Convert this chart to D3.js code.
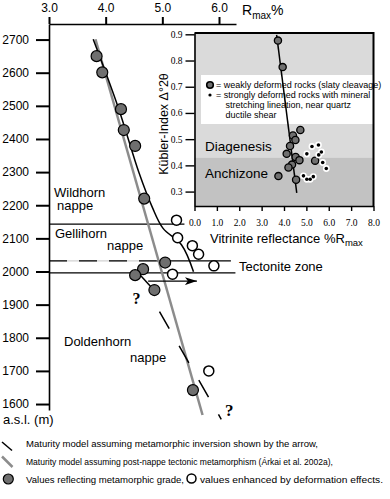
<!DOCTYPE html>
<html>
<head>
<meta charset="utf-8">
<script src="https://cdn.jsdelivr.net/npm/d3@7"></script>
<style>
  body { margin: 0; background: #fff; }
  svg { display: block; font-family: 'Liberation Sans', Arial, sans-serif; }
</style>
</head>
<body>
<div id="chart"></div>
<script>
// main profile: altitude vs. vitrinite reflectance
const rmaxTicks = [3, 4, 5, 6];
const altTicks = [1600, 1700, 1800, 1900, 2000, 2100, 2200, 2300, 2400, 2500, 2600, 2700];

// values reflecting metamorphic grade (grey dots)
const gradeRmax = [3.84, 3.94, 4.27, 4.32, 4.52, 4.68, 5.05, 4.66, 4.52, 4.86, 5.54];
const gradeAlt = [2650, 2601, 2490, 2427, 2379, 2220, 2027, 2007, 1989, 1944, 1642];

// values enhanced by deformation effects (open dots)
const deformedRmax = [5.25, 5.27, 5.53, 5.64, 5.91, 5.18, 5.82];
const deformedAlt = [2155, 2102, 2078, 2052, 2017, 1992, 1700];

// maturity model, metamorphic inversion (black)
const inversionRmax = [3.78, 4.22, 4.59, 4.82, 5.01, 5.34, 5.55];
const inversionAlt = [2701, 2496, 2297, 2195, 2131, 2080, 1999];
const inversionLinkRmax = [4.58, 4.83];
const inversionLinkAlt = [1995, 1948];
const inversionTailRmax = [4.95, 6.04];
const inversionTailAlt = [1879, 1554];
const arrowRmax = [4.75, 5.61];
const arrowAlt = 1971;

// maturity model, post-nappe tectonic metamorphism (grey)
const postNappeRmax = [3.82, 5.71];
const postNappeAlt = [2701, 1567];

// nappe boundaries
const wildhornBase = { alt: 2143, to: 5.39 };
const tectoniteTop = { alt: 2032, dashedTo: 4.9, to: 6.21 };
const tectoniteBase = { alt: 1996, to: 6.29 };

// inset: Kübler index vs. vitrinite reflectance
const vrTicks = [0, 1, 2, 3, 4, 5, 6, 7, 8];
const kiTicks = [0.3, 0.4, 0.5, 0.6, 0.7, 0.8, 0.9];
const anchizoneLimit = 0.43;

const weakVr = [3.73, 3.94, 4.73, 4.40, 4.51, 4.27, 4.12, 4.52, 4.69, 4.36, 4.20, 5.39, 3.75, 4.54];
const weakKi = [0.876, 0.775, 0.535, 0.514, 0.497, 0.474, 0.444, 0.432, 0.420, 0.403, 0.392, 0.418, 0.359, 0.345];

const strongVr = [5.25, 5.54, 5.02, 5.55, 5.67, 5.73, 5.89, 4.87, 5.02, 5.17, 5.31];
const strongKi = [0.472, 0.478, 0.444, 0.440, 0.451, 0.411, 0.388, 0.360, 0.347, 0.347, 0.357];

const trendVr = [3.67, 4.57];
const trendKi = [0.898, 0.295];

const W = 390, H = 499;
const GREY_DOT = '#6f6f6f';
const GREY_LINE = '#8c8c8c';

const svg = d3.select('#chart').append('svg')
    .attr('width', W)
    .attr('height', H);

svg.append('rect').attr('width', W).attr('height', H).attr('fill', '#fff');

// scales
const x = d3.scaleLinear().domain([3, 6.3]).range([49, 236]);
const y = d3.scaleLinear().domain([1582, 2747]).range([410, 24]);

const zip = (a, b) => a.map((d, i) => [d, b[i]]);
const line = d3.line().x(d => x(d[0])).y(d => y(d[1]));

svg.append('defs').append('marker')
    .attr('id', 'arrow')
    .attr('viewBox', '0 0 12 8')
    .attr('refX', 12).attr('refY', 4)
    .attr('markerWidth', 12).attr('markerHeight', 8)
    .attr('markerUnits', 'userSpaceOnUse')
    .attr('orient', 'auto')
    .append('path')
    .attr('d', 'M0,0 L12,4 L0,8 L3,4 Z')
    .attr('fill', '#000');

const chart = svg.append('g');

// nappe boundaries
chart.append('path')
    .attr('d', line([[3, wildhornBase.alt], [wildhornBase.to, wildhornBase.alt]]))
    .attr('stroke', '#000').attr('stroke-width', 1.3);

chart.append('path')
    .attr('d', line([[3, tectoniteTop.alt], [tectoniteTop.dashedTo, tectoniteTop.alt]]))
    .attr('stroke', '#d2d2d2').attr('stroke-width', 1.3);
chart.append('path')
    .attr('d', line([[3, tectoniteTop.alt], [tectoniteTop.dashedTo, tectoniteTop.alt]]))
    .attr('stroke', '#000').attr('stroke-width', 1.3)
    .attr('stroke-dasharray', '18,12');
chart.append('path')
    .attr('d', line([[tectoniteTop.dashedTo, tectoniteTop.alt], [tectoniteTop.to, tectoniteTop.alt]]))
    .attr('stroke', '#000').attr('stroke-width', 1.3);

chart.append('path')
    .attr('d', line([[3, tectoniteBase.alt], [tectoniteBase.to, tectoniteBase.alt]]))
    .attr('stroke', '#000').attr('stroke-width', 1.3);

// model lines
chart.append('path')
    .attr('d', line(zip(postNappeRmax, postNappeAlt)))
    .attr('fill', 'none').attr('stroke', GREY_LINE).attr('stroke-width', 2.5);

chart.append('path')
    .attr('d', line.curve(d3.curveCatmullRom)(zip(inversionRmax, inversionAlt)))
    .attr('fill', 'none').attr('stroke', '#000').attr('stroke-width', 1.5);
line.curve(d3.curveLinear);

chart.append('path')
    .attr('d', line(zip(inversionLinkRmax, inversionLinkAlt)))
    .attr('fill', 'none').attr('stroke', '#000').attr('stroke-width', 1.5);

chart.append('path')
    .attr('d', line(zip(inversionTailRmax, inversionTailAlt)))
    .attr('fill', 'none').attr('stroke', '#000').attr('stroke-width', 1.5)
    .attr('stroke-dasharray', '19.5,20');

chart.append('path')
    .attr('d', line(arrowRmax.map(d => [d, arrowAlt])))
    .attr('stroke', '#000').attr('stroke-width', 1.3)
    .attr('marker-end', 'url(#arrow)');

// data points
chart.selectAll('.deformed')
    .data(zip(deformedRmax, deformedAlt))
    .join('circle')
    .attr('class', 'deformed')
    .attr('cx', d => x(d[0]))
    .attr('cy', d => y(d[1]))
    .attr('r', 5)
    .attr('fill', '#fff').attr('stroke', '#000').attr('stroke-width', 1.5);

chart.selectAll('.grade')
    .data(zip(gradeRmax, gradeAlt))
    .join('circle')
    .attr('class', 'grade')
    .attr('cx', d => x(d[0]))
    .attr('cy', d => y(d[1]))
    .attr('r', 5.5)
    .attr('fill', GREY_DOT).attr('stroke', '#000').attr('stroke-width', 1.2);

// axes
const topAxis = d3.axisTop(x)
    .tickValues(rmaxTicks)
    .tickFormat(d3.format('.1f'))
    .tickSize(7).tickSizeOuter(0).tickPadding(5);

const leftAxis = d3.axisLeft(y)
    .tickValues(altTicks)
    .tickFormat(d3.format('d'))
    .tickSize(13).tickSizeOuter(0).tickPadding(7);

const topG = svg.append('g').attr('transform', `translate(0,${y.range()[1]})`).call(topAxis);
const leftG = svg.append('g').attr('transform', `translate(${x.range()[0]},0)`).call(leftAxis);

[topG, leftG].forEach(g => {
    g.attr('font-family', null).attr('font-size', 12);
    g.select('.domain').attr('stroke-width', 1.6);
    g.selectAll('.tick line').attr('stroke-width', 2);
    g.selectAll('.tick text').attr('fill', '#000');
});

const rTitle = svg.append('text').attr('x', 242).attr('y', 15).attr('font-size', 14);
rTitle.append('tspan').text('R');
rTitle.append('tspan').attr('font-size', 10).attr('dy', 4).text('max');
rTitle.append('tspan').attr('dy', -4).text('%');

svg.append('text').attr('x', 3).attr('y', 424).attr('font-size', 13).text('a.s.l. (m)');

// nappe labels
const labels = [
    ['Wildhorn', 54, 196.5], ['nappe', 57, 210], ['Gellihorn', 55, 238],
    ['nappe', 107, 250], ['Doldenhorn', 64, 346], ['nappe', 130, 362],
    ['Tectonite zone', 239, 271]
];
svg.selectAll('.nappe-label')
    .data(labels)
    .join('text')
    .attr('class', 'nappe-label')
    .attr('x', d => d[1]).attr('y', d => d[2])
    .attr('font-size', 13)
    .text(d => d[0]);

svg.append('text')
    .attr('x', x(4.545)).attr('y', y(1902))
    .attr('text-anchor', 'middle')
    .attr('font-family', "'Liberation Serif', serif").attr('font-weight', 'bold').attr('font-size', 16)
    .text('?');
svg.append('text')
    .attr('x', x(6.18)).attr('y', y(1564))
    .attr('text-anchor', 'middle')
    .attr('font-family', "'Liberation Serif', serif").attr('font-weight', 'bold').attr('font-size', 17)
    .text('?');

// inset
const xi = d3.scaleLinear().domain([0, 8]).range([194.5, 373.5]);
const yi = d3.scaleLinear().domain([0.245, 0.905]).range([206, 33]);

const inset = svg.append('g');

inset.append('rect')
    .attr('x', xi(0)).attr('y', yi(0.905))
    .attr('width', xi(8) - xi(0)).attr('height', yi(anchizoneLimit) - yi(0.905))
    .attr('fill', '#dadada');
inset.append('rect')
    .attr('x', xi(0)).attr('y', yi(anchizoneLimit))
    .attr('width', xi(8) - xi(0)).attr('height', yi(0.245) - yi(anchizoneLimit))
    .attr('fill', '#c2c2c2');

// legend box
inset.append('rect')
    .attr('x', 201).attr('y', 75).attr('width', xi(8) - 201).attr('height', 49)
    .attr('fill', '#fff');

inset.append('text').attr('x', 205).attr('y', 150.5).attr('font-size', 13.5).text('Diagenesis');
inset.append('text').attr('x', 205).attr('y', 177.5).attr('font-size', 13.5).text('Anchizone');

inset.append('path')
    .attr('d', d3.line().x(d => xi(d[0])).y(d => yi(d[1]))(zip(trendVr, trendKi)))
    .attr('stroke', '#000').attr('stroke-width', 1.5);

inset.selectAll('.weak')
    .data(zip(weakVr, weakKi))
    .join('circle')
    .attr('class', 'weak')
    .attr('cx', d => xi(d[0])).attr('cy', d => yi(d[1]))
    .attr('r', 3.6)
    .attr('fill', GREY_DOT).attr('stroke', '#000').attr('stroke-width', 1.3);

inset.selectAll('.strong-halo')
    .data(zip(strongVr, strongKi))
    .join('circle')
    .attr('class', 'strong-halo')
    .attr('cx', d => xi(d[0])).attr('cy', d => yi(d[1]))
    .attr('r', 3.4).attr('fill', '#fff');
inset.selectAll('.strong')
    .data(zip(strongVr, strongKi))
    .join('circle')
    .attr('class', 'strong')
    .attr('cx', d => xi(d[0])).attr('cy', d => yi(d[1]))
    .attr('r', 1.8).attr('fill', '#000');

// inset legend entries
inset.append('circle').attr('cx', 210).attr('cy', 85).attr('r', 3.3)
    .attr('fill', GREY_DOT).attr('stroke', '#000').attr('stroke-width', 1.6);
inset.append('circle').attr('cx', 210).attr('cy', 95).attr('r', 1.6).attr('fill', '#000');
const legendLines = [
    ['= weakly deformed rocks (slaty cleavage)', 216, 88],
    ['= strongly deformed rocks with mineral', 216, 98],
    ['stretching lineation, near quartz', 225.5, 108],
    ['ductile shear', 225.5, 118]
];
inset.selectAll('.inset-legend')
    .data(legendLines)
    .join('text')
    .attr('class', 'inset-legend')
    .attr('x', d => d[1]).attr('y', d => d[2])
    .attr('font-size', 9)
    .text(d => d[0]);

// inset axes
const insetLeft = d3.axisLeft(yi)
    .tickValues(kiTicks).tickFormat(d3.format('.1f'))
    .tickSize(9).tickSizeOuter(0).tickPadding(3);
const insetBottom = d3.axisBottom(xi)
    .tickValues(vrTicks).tickFormat(d3.format('.1f'))
    .tickSize(5).tickSizeOuter(0).tickPadding(8);

const ilG = inset.append('g').attr('transform', `translate(${xi(0)},0)`).call(insetLeft);
const ibG = inset.append('g').attr('transform', `translate(0,${yi(0.245)})`).call(insetBottom);
[ilG, ibG].forEach(g => {
    g.attr('font-family', "'Liberation Serif', 'Times New Roman', serif").attr('font-size', 9.5);
    g.select('.domain').attr('stroke-width', 1.6);
    g.selectAll('.tick line').attr('stroke-width', 1.4);
    g.selectAll('.tick text').attr('fill', '#000');
});

inset.append('path')
    .attr('d', `M${xi(0)},${yi(0.905)} H${xi(8)} V${yi(0.245)}`)
    .attr('fill', 'none').attr('stroke', '#000').attr('stroke-width', 2);

inset.append('text')
    .attr('transform', 'translate(168,124) rotate(-90)')
    .attr('text-anchor', 'middle')
    .attr('font-size', 12.5)
    .text('Kübler-Index Δ°2θ');

const vTitle = inset.append('text').attr('x', 210).attr('y', 243.3).attr('font-size', 13);
vTitle.append('tspan').text('Vitrinite reflectance %R');
vTitle.append('tspan').attr('font-size', 9.5).attr('dy', 3).text('max');

// bottom legend
const legend = svg.append('g').attr('font-size', 9);
legend.append('line').attr('x1', 2).attr('y1', 442).attr('x2', 12).attr('y2', 450.5)
    .attr('stroke', '#000').attr('stroke-width', 1.5);
legend.append('line').attr('x1', 2).attr('y1', 456.5).attr('x2', 12.5).attr('y2', 467)
    .attr('stroke', GREY_LINE).attr('stroke-width', 2.5);
legend.append('circle').attr('cx', 8.3).attr('cy', 479).attr('r', 5)
    .attr('fill', GREY_DOT).attr('stroke', '#000').attr('stroke-width', 1.2);
legend.append('circle').attr('cx', 191.5).attr('cy', 478.5).attr('r', 4.5)
    .attr('fill', '#fff').attr('stroke', '#000').attr('stroke-width', 1.5);

const legendText = [
    ['Maturity model assuming metamorphic inversion shown by the arrow,', 26, 446.5, 292],
    ['Maturity model assuming post-nappe tectonic metamorphism (Árkai et al. 2002a),', 26, 465, 307],
    ['Values reflecting metamorphic grade,', 26, 482.5, 158],
    ['values enhanced by deformation effects.', 200, 482.5, 183]
];
legend.selectAll('.legend-text')
    .data(legendText)
    .join('text')
    .attr('class', 'legend-text')
    .attr('x', d => d[1]).attr('y', d => d[2])
    .attr('textLength', d => d[3])
    .attr('lengthAdjust', 'spacingAndGlyphs')
    .text(d => d[0]);
</script>
</body>
</html>
